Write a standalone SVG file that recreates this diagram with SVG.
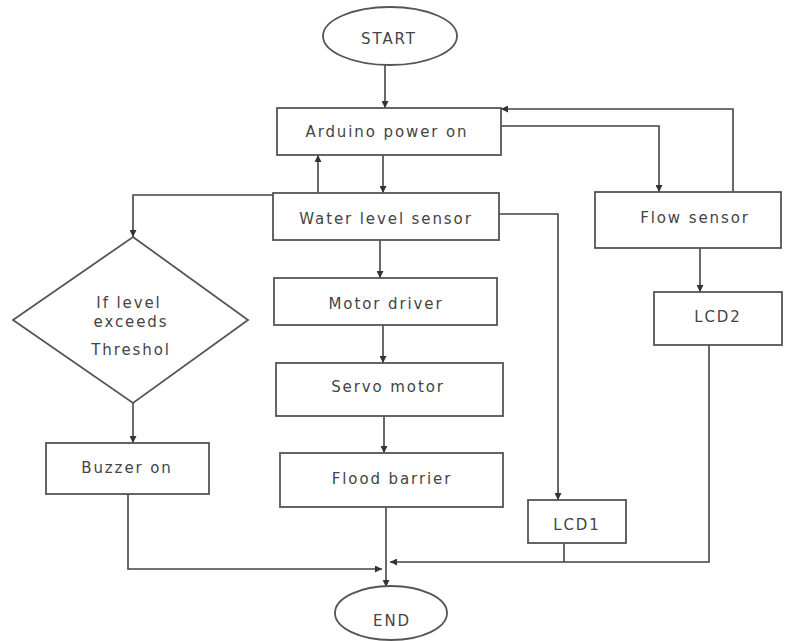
<svg xmlns="http://www.w3.org/2000/svg" width="790" height="641" viewBox="0 0 790 641">
<style>
.box{fill:#fff;stroke:#555;stroke-width:1.8}
.t{font-family:"DejaVu Sans",Verdana,sans-serif;font-size:15px;fill:#444;text-anchor:middle;letter-spacing:1.9px}
.c{fill:none;stroke:#444;stroke-width:1.6}
</style>
<defs>
<marker id="ah" viewBox="0 0 10 10" refX="10" refY="5" markerWidth="7" markerHeight="7" markerUnits="userSpaceOnUse" orient="auto">
<path d="M0,0 L10,5 L0,10 z" fill="#333"/>
</marker>
</defs>
<rect width="790" height="641" fill="#fff"/>
<g id="connectors">
<path class="c" d="M385,65 V108" marker-end="url(#ah)"/>
<path class="c" d="M383,155 V193" marker-end="url(#ah)"/>
<path class="c" d="M318,193 V155" marker-end="url(#ah)"/>
<path class="c" d="M501,126 H659 V192" marker-end="url(#ah)"/>
<path class="c" d="M733,192 V109 H501" marker-end="url(#ah)"/>
<path class="c" d="M700,248 V292" marker-end="url(#ah)"/>
<path class="c" d="M499,214 H558 V500" marker-end="url(#ah)"/>
<path class="c" d="M273,195 H133 V237" marker-end="url(#ah)"/>
<path class="c" d="M133,403 V443" marker-end="url(#ah)"/>
<path class="c" d="M380,240 V278" marker-end="url(#ah)"/>
<path class="c" d="M383,325 V363" marker-end="url(#ah)"/>
<path class="c" d="M384,416 V453" marker-end="url(#ah)"/>
<path class="c" d="M386,507 V587" marker-end="url(#ah)"/>
<path class="c" d="M128,494 V569 H382" marker-end="url(#ah)"/>
<path class="c" d="M564,543 V562"/>
<path class="c" d="M709,345 V562 H390" marker-end="url(#ah)"/>
</g>
<g id="start"><ellipse class="box" cx="390" cy="36" rx="67" ry="29"/><text class="t" x="389" y="44">START</text></g>
<g id="arduino"><rect class="box" x="277" y="108" width="224" height="47"/><text class="t" x="387" y="137">Arduino power on</text></g>
<g id="water"><rect class="box" x="273" y="193" width="226" height="47"/><text class="t" x="386" y="224">Water level sensor</text></g>
<g id="flow"><rect class="box" x="595" y="192" width="186" height="56"/><text class="t" x="695" y="223">Flow sensor</text></g>
<g id="lcd2"><rect class="box" x="654" y="292" width="128" height="53"/><text class="t" x="718" y="322">LCD2</text></g>
<g id="decision"><polygon class="box" points="133,237 248,320 133,403 13,320"/>
<text class="t" x="129" y="308">If level</text><text class="t" x="131" y="327">exceeds</text><text class="t" x="131" y="355">Threshol</text></g>
<g id="buzzer"><rect class="box" x="46" y="443" width="163" height="51"/><text class="t" x="127" y="473">Buzzer on</text></g>
<g id="motor"><rect class="box" x="274" y="278" width="223" height="47"/><text class="t" x="386" y="309">Motor driver</text></g>
<g id="servo"><rect class="box" x="276" y="363" width="227" height="53"/><text class="t" x="388" y="392">Servo motor</text></g>
<g id="flood"><rect class="box" x="280" y="453" width="223" height="54"/><text class="t" x="392" y="484">Flood barrier</text></g>
<g id="lcd1"><rect class="box" x="528" y="500" width="98" height="43"/><text class="t" x="577" y="530">LCD1</text></g>
<g id="end"><ellipse class="box" cx="391" cy="613" rx="56" ry="27"/><text class="t" x="392" y="626">END</text></g>
</svg>
